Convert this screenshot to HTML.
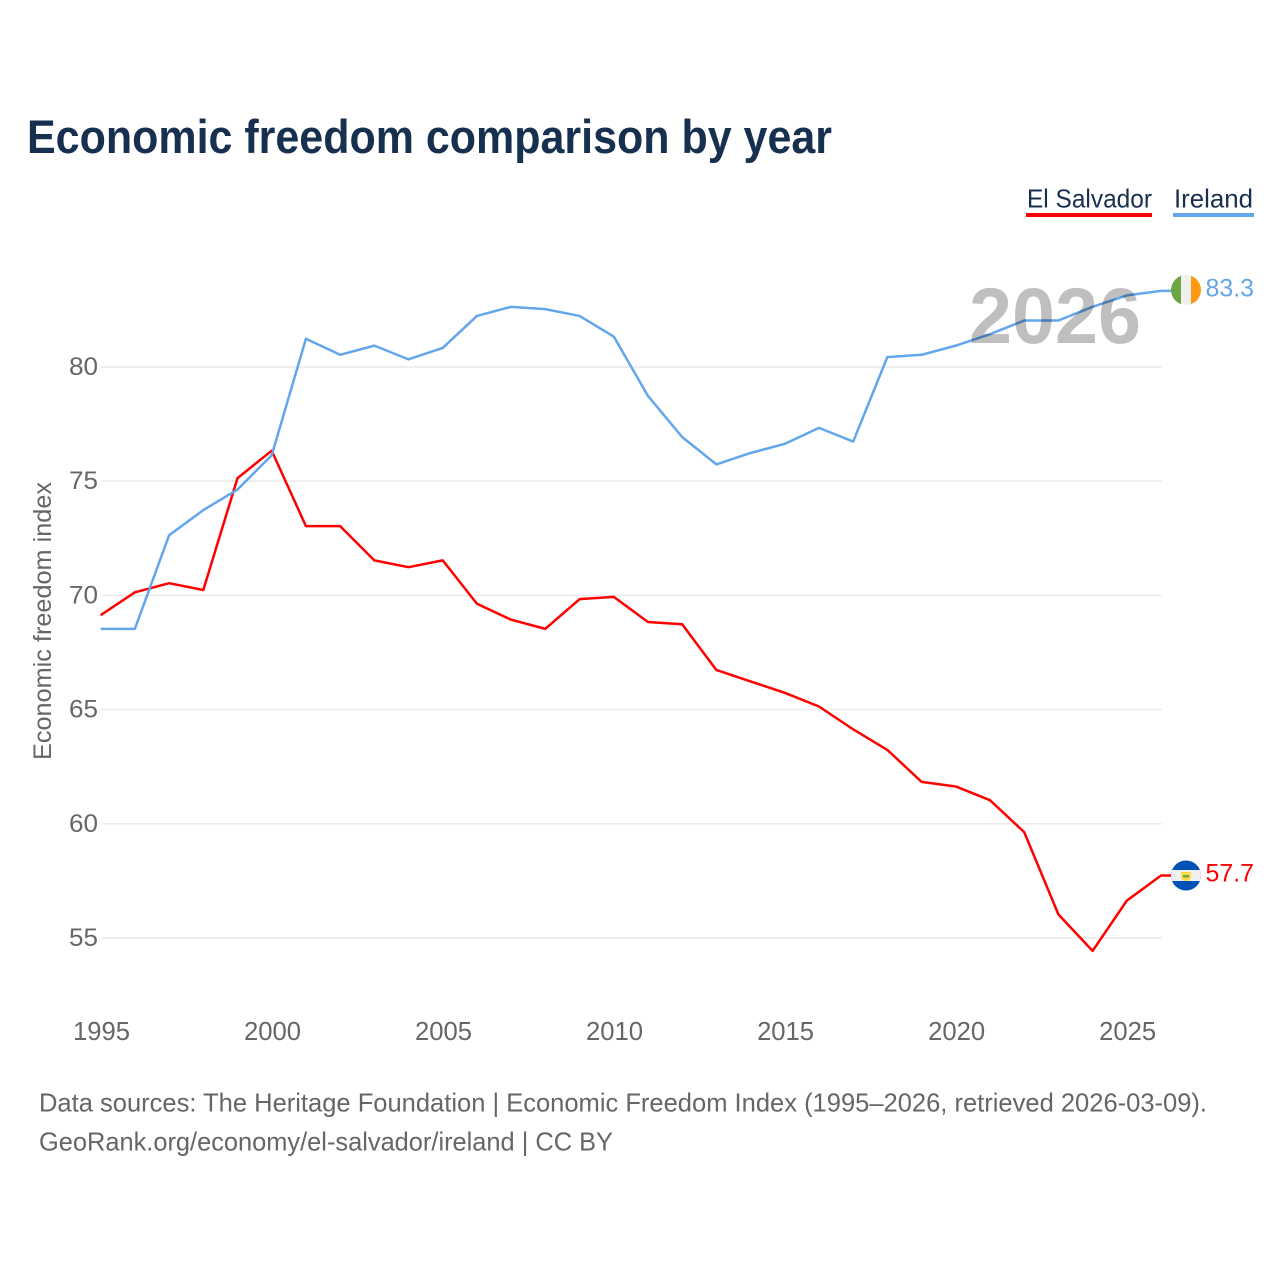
<!DOCTYPE html>
<html lang="en">
<head>
<meta charset="utf-8">
<title>Economic freedom comparison by year</title>
<style>
html,body{margin:0;padding:0;background:#fff;}
svg{display:block;}
text{font-family:"Liberation Sans",sans-serif;}
</style>
</head>
<body>
<svg id="chart" xmlns="http://www.w3.org/2000/svg" width="1280" height="1280" viewBox="0 0 1280 1280">
  <rect x="0" y="0" width="1280" height="1280" fill="#ffffff"/>
  <text x="27" y="153" font-size="47" font-weight="700" fill="#18304f" textLength="805" lengthAdjust="spacingAndGlyphs">Economic freedom comparison by year</text>

  <g>
    <text x="1027" y="207.5" font-size="26" fill="#18304f" textLength="125" lengthAdjust="spacingAndGlyphs">El Salvador</text>
    <rect x="1026" y="213" width="126" height="4" fill="#ff0000"/>
  </g>
  <g>
    <text x="1174" y="207.5" font-size="26" fill="#18304f" textLength="79" lengthAdjust="spacingAndGlyphs">Ireland</text>
    <rect x="1173" y="213" width="81" height="4" fill="#62a6ec"/>
  </g>

  <g id="grid"></g>
  <g id="yticks"></g>
  <g id="xticks"></g>
  <text transform="translate(51,621) rotate(-90)" text-anchor="middle" font-size="25" fill="#666666" textLength="278" lengthAdjust="spacingAndGlyphs">Economic freedom index</text>

  <g id="series" transform="translate(-0.8,-0.8)"></g>

  <text id="year-watermark" x="969" y="343" font-size="79" font-weight="700" fill="#000000" fill-opacity="0.25" textLength="172" lengthAdjust="spacingAndGlyphs">2026</text>

  <defs>
    <clipPath id="flag-ie-clip"><circle cx="1186" cy="290" r="15"/></clipPath>
    <clipPath id="flag-sv-clip"><circle cx="1186" cy="875.5" r="15"/></clipPath>
  </defs>
  <g clip-path="url(#flag-ie-clip)">
    <rect x="1171" y="275" width="10" height="30" fill="#6da544"/>
    <rect x="1181" y="275" width="10" height="30" fill="#f0f0f0"/>
    <rect x="1191" y="275" width="10" height="30" fill="#ff9811"/>
  </g>
  <g clip-path="url(#flag-sv-clip)">
    <rect x="1171" y="860" width="30" height="31" fill="#0052b4"/>
    <rect x="1171" y="870" width="30" height="11" fill="#f0f0f0"/>
    <path d="M1181 872 L1191 872 L1191 876 Q1191 881 1186 881 Q1181 881 1181 876 Z" fill="#ffda44"/>
    <rect x="1183" y="875" width="6" height="2.5" fill="#6da544"/>
  </g>
  <text id="value-ireland" x="1205.5" y="296.3" font-size="25" fill="#62a6ec" textLength="48.5" lengthAdjust="spacingAndGlyphs"></text>
  <text id="value-salvador" x="1205.5" y="881.5" font-size="25" fill="#ff0000" textLength="48.5" lengthAdjust="spacingAndGlyphs"></text>

  <text x="39" y="1111.3" font-size="26" fill="#666666" textLength="1168" lengthAdjust="spacingAndGlyphs">Data sources: The Heritage Foundation | Economic Freedom Index (1995–2026, retrieved 2026-03-09).</text>
  <text x="39" y="1150.5" font-size="26" fill="#666666" textLength="574" lengthAdjust="spacingAndGlyphs">GeoRank.org/economy/el-salvador/ireland | CC BY</text>
</svg>
<script>
const years = [1995,1996,1997,1998,1999,2000,2001,2002,2003,2004,2005,2006,2007,2008,2009,2010,2011,2012,2013,2014,2015,2016,2017,2018,2019,2020,2021,2022,2023,2024,2025,2026];
const elSalvador = [69.1,70.1,70.5,70.2,75.1,76.3,73.0,73.0,71.5,71.2,71.5,69.6,68.9,68.5,69.8,69.9,68.8,68.7,66.7,66.2,65.7,65.1,64.1,63.2,61.8,61.6,61.0,59.6,56.0,54.4,56.6,57.7];
const ireland = [68.5,68.5,72.6,73.7,74.6,76.1,81.2,80.5,80.9,80.3,80.8,82.2,82.6,82.5,82.2,81.3,78.7,76.9,75.7,76.2,76.6,77.3,76.7,80.4,80.5,80.9,81.4,82.0,82.0,82.6,83.1,83.3];
const yTickValues = [55,60,65,70,75,80];
const xTickValues = [1995,2000,2005,2010,2015,2020,2025];

const SVG_NS = 'http://www.w3.org/2000/svg';
const xScale = function (year) { return 101.5 + (year - 1995) * (1161.8 - 101.5) / (2026 - 1995); };
const yScale = function (value) { return 938 + (value - 55) * (367 - 938) / (80 - 55); };
const FLAG_EDGE_X = 1172;

const gridGroup = document.getElementById('grid');
const yTickGroup = document.getElementById('yticks');
const xTickGroup = document.getElementById('xticks');
const seriesGroup = document.getElementById('series');

yTickValues.forEach(function (tick) {
  const line = document.createElementNS(SVG_NS, 'line');
  
  
  line.setAttribute('x1', xScale(1995));
  line.setAttribute('x2', xScale(2026));
  line.setAttribute('y1', yScale(tick));
  line.setAttribute('y2', yScale(tick));
  line.setAttribute('stroke', '#e9e9e9');
  line.setAttribute('stroke-width', '1.4');
  gridGroup.appendChild(line);

  const label = document.createElementNS(SVG_NS, 'text');
  
  
  label.setAttribute('x', '98');
  label.setAttribute('y', yScale(tick) + 8);
  label.setAttribute('text-anchor', 'end');
  label.setAttribute('font-size', '25');
  label.setAttribute('fill', '#666666');
  label.setAttribute('textLength', '29');
  label.setAttribute('lengthAdjust', 'spacingAndGlyphs');
  label.textContent = String(tick);
  yTickGroup.appendChild(label);
});

xTickValues.forEach(function (tick) {
  const label = document.createElementNS(SVG_NS, 'text');
  
  
  label.setAttribute('x', xScale(tick));
  label.setAttribute('y', '1040');
  label.setAttribute('text-anchor', 'middle');
  label.setAttribute('font-size', '26');
  label.setAttribute('fill', '#666666');
  label.setAttribute('textLength', '57');
  label.setAttribute('lengthAdjust', 'spacingAndGlyphs');
  label.textContent = String(tick);
  xTickGroup.appendChild(label);
});

function drawSeries(values, color) {
  const parts = values.map(function (value, index) {
    return xScale(years[index]).toFixed(2) + ',' + yScale(value).toFixed(2);
  });
  parts.push(FLAG_EDGE_X + ',' + yScale(values[values.length - 1]).toFixed(2));
  const path = document.createElementNS(SVG_NS, 'polyline');
  path.setAttribute('points', parts.join(' '));
  path.setAttribute('fill', 'none');
  path.setAttribute('stroke', color);
  path.setAttribute('stroke-width', '2.5');
  path.setAttribute('stroke-linejoin', 'round');
  seriesGroup.appendChild(path);
  return path;
}

const salvadorLine = drawSeries(elSalvador, '#ff0000');


const irelandLine = drawSeries(ireland, '#62a6ec');



document.getElementById('value-ireland').textContent = ireland[ireland.length - 1].toFixed(1);
document.getElementById('value-salvador').textContent = elSalvador[elSalvador.length - 1].toFixed(1);
document.getElementById('year-watermark').textContent = String(years[years.length - 1]);
</script>
</body>
</html>
